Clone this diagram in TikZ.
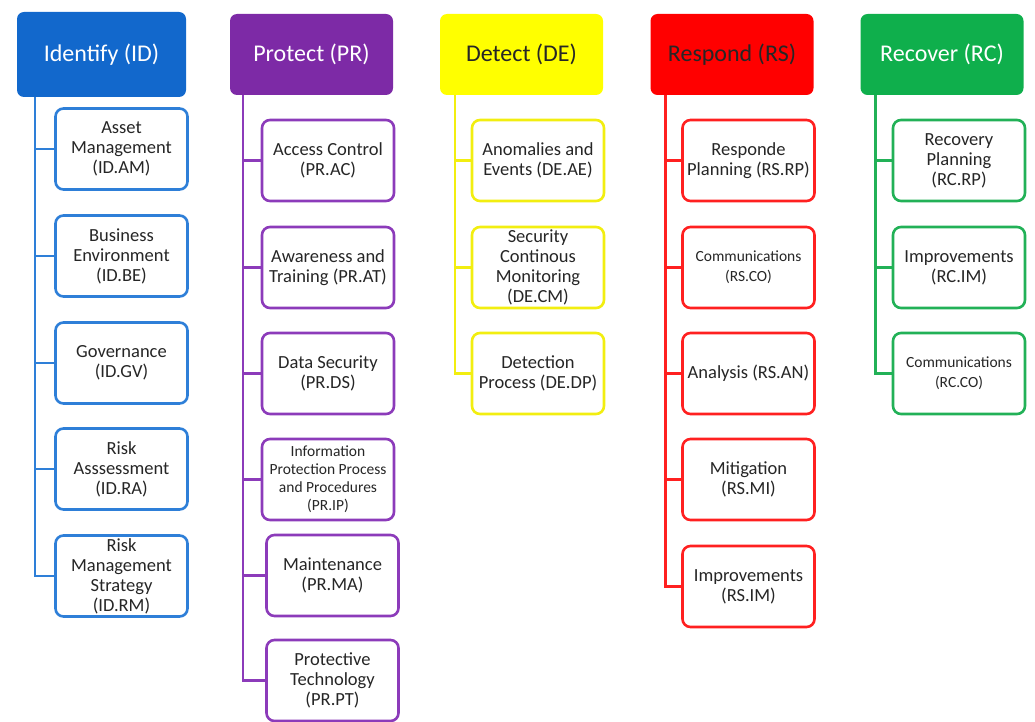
\documentclass[tikz,border=0pt]{standalone}
\usepackage{fontspec}
\setmainfont{Carlito}
\definecolor{idhead}{HTML}{1268CC}
\definecolor{idline}{HTML}{2E7FD8}
\definecolor{prhead}{HTML}{7D2AA6}
\definecolor{prline}{HTML}{8C3BBA}
\definecolor{dehead}{HTML}{FFFF00}
\definecolor{deline}{HTML}{F2EE10}
\definecolor{rshead}{HTML}{FF0000}
\definecolor{rsline}{HTML}{FF2020}
\definecolor{rchead}{HTML}{0FAF4C}
\definecolor{rcline}{HTML}{22B157}
\definecolor{txt}{HTML}{262626}
\tikzset{
  head/.style={rounded corners=7pt, minimum width=163pt, minimum height=81pt, inner sep=0pt, font=\fontsize{24}{28}\selectfont, align=center},
  sub/.style={draw, rounded corners=8pt, line width=2.6pt, fill=white, minimum width=132pt, minimum height=81pt, inner sep=1pt, text=txt, font=\fontsize{18.5}{20}\selectfont, align=center},
  small/.style={font=\fontsize{15.5}{18}\selectfont},
  smallw/.style={font=\fontsize{15.5}{20}\selectfont},
  conn/.style={line width=2.6pt}
}
\begin{document}
\begin{tikzpicture}[x=1pt,y=-1pt]
\useasboundingbox (0,0) rectangle (1035,722);
% headers
\node[head, fill=idhead, text=white, minimum width=169pt, minimum height=85pt] (id) at (101.5,54.5) {Identify (ID)};
\node[head, fill=prhead, text=white] (pr) at (311.5,54.5) {Protect (PR)};
\node[head, fill=dehead, text=txt] (de) at (521.5,54.5) {Detect (DE)};
\node[head, fill=rshead, text=txt] (rs) at (732,54.5) {Respond (RS)};
\node[head, fill=rchead, text=white] (rc) at (942,54.5) {Recover (RC)};
% trunk coordinates
\coordinate (idt) at ([xshift=18pt]id.south west);
\coordinate (prt) at ([xshift=13pt]pr.south west);
\coordinate (det) at ([xshift=15pt]de.south west);
\coordinate (rst) at ([xshift=15pt]rs.south west);
\coordinate (rct) at ([xshift=15pt]rc.south west);
% Identify
\begin{scope}[every node/.append style={draw=idline}]
\node[sub] (idam) at (121.5,149) {Asset\\Management\\(ID.AM)};
\node[sub] (idbe) at (121.5,256) {Business\\Environment\\(ID.BE)};
\node[sub] (idgv) at (121.5,363) {Governance\\(ID.GV)};
\node[sub] (idra) at (121.5,469) {Risk\\Asssessment\\(ID.RA)};
\node[sub] (idrm) at (121.5,576) {Risk\\Management\\Strategy\\(ID.RM)};
\end{scope}
\foreach \n in {idam,idbe,idgv,idra,idrm} \draw[conn, idline] (idt) |- (\n.west);
% Protect
\begin{scope}[every node/.append style={draw=prline}]
\node[sub] (prac) at (328,160.5) {Access Control\\(PR.AC)};
\node[sub] (prat) at (328,267.5) {Awareness and\\Training (PR.AT)};
\node[sub] (prds) at (328,373.5) {Data Security\\(PR.DS)};
\node[sub, small] (prip) at (328,479.5) {Information\\Protection Process\\and Procedures\\(PR.IP)};
\node[sub] (prma) at (332.5,575.5) {Maintenance\\(PR.MA)};
\node[sub] (prpt) at (332.5,680.5) {Protective\\Technology\\(PR.PT)};
\end{scope}
\foreach \n in {prac,prat,prds,prip,prma,prpt} \draw[conn, prline] (prt) |- (\n.west);
% Detect
\begin{scope}[every node/.append style={draw=deline}]
\node[sub] (deae) at (538,160.5) {Anomalies and\\Events (DE.AE)};
\node[sub] (decm) at (538,267.5) {Security\\Continous\\Monitoring\\(DE.CM)};
\node[sub] (dedp) at (538,373.5) {Detection\\Process (DE.DP)};
\end{scope}
\foreach \n in {deae,decm,dedp} \draw[conn, deline] (det) |- (\n.west);
% Respond
\begin{scope}[every node/.append style={draw=rsline}]
\node[sub] (rsrp) at (748.5,160.5) {Responde\\Planning (RS.RP)};
\node[sub, smallw] (rsco) at (748.5,267.5) {Communications\\(RS.CO)};
\node[sub] (rsan) at (748.5,373.5) {Analysis (RS.AN)};
\node[sub] (rsmi) at (748.5,479.5) {Mitigation\\(RS.MI)};
\node[sub] (rsim) at (748.5,586.5) {Improvements\\(RS.IM)};
\end{scope}
\foreach \n in {rsrp,rsco,rsan,rsmi,rsim} \draw[conn, rsline] (rst) |- (\n.west);
% Recover
\begin{scope}[every node/.append style={draw=rcline}]
\node[sub] (rcrp) at (959,160.5) {Recovery\\Planning\\(RC.RP)};
\node[sub] (rcim) at (959,267.5) {Improvements\\(RC.IM)};
\node[sub, smallw] (rcco) at (959,373.5) {Communications\\(RC.CO)};
\end{scope}
\foreach \n in {rcrp,rcim,rcco} \draw[conn, rcline] (rct) |- (\n.west);
\end{tikzpicture}
\end{document}
